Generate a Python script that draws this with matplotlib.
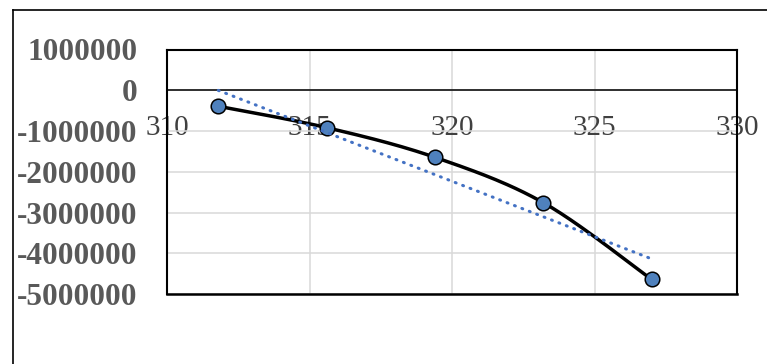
import numpy as np
import matplotlib.pyplot as plt
from matplotlib.lines import Line2D

# temperature (K) and value
temp = [311.8, 315.6, 319.4, 323.2, 327.0]
valor = [-393000, -917000, -1645000, -2757000, -4640000]

x_ticks = [310, 315, 320, 325, 330]
y_ticks = [1000000, 0, -1000000, -2000000, -3000000, -4000000, -5000000]


def curva_suave(x, y, n=40):
    # smoothed line through the points (Catmull-Rom as cubic Bezier)
    x = np.asarray(x, float)
    y = np.asarray(y, float)
    px = np.concatenate([[x[0]], x, [x[-1]]])
    py = np.concatenate([[y[0]], y, [y[-1]]])
    xs, ys = [], []
    t = np.linspace(0, 1, n)
    for i in range(1, len(px) - 2):
        p0 = np.array([px[i], py[i]])
        p3 = np.array([px[i + 1], py[i + 1]])
        c1 = p0 + (np.array([px[i + 1], py[i + 1]]) - np.array([px[i - 1], py[i - 1]])) / 6
        c2 = p3 - (np.array([px[i + 2], py[i + 2]]) - np.array([px[i], py[i]])) / 6
        b = ((1 - t) ** 3)[:, None] * p0 + (3 * (1 - t) ** 2 * t)[:, None] * c1 \
            + (3 * (1 - t) * t ** 2)[:, None] * c2 + (t ** 3)[:, None] * p3
        xs.extend(b[:, 0])
        ys.extend(b[:, 1])
    return np.array(xs), np.array(ys)


fig = plt.figure(figsize=(7.67, 3.64), dpi=100)
ax = fig.add_axes([167 / 767, 1 - 294 / 364, 570 / 767, 244.5 / 364])

ax.grid(True, color='#d9d9d9', linewidth=1.1)
ax.set_axisbelow(True)

xs, ys = curva_suave(temp, valor)
ax.plot(xs, ys, color='black', linewidth=2.5, zorder=3)
ax.plot(temp, valor, 'o', markersize=10.5, markerfacecolor='#4f81bd',
        markeredgecolor='black', markeredgewidth=1.1, zorder=4)

# linear trend line
a, b = np.polyfit(temp, valor, 1)
tx = np.array([temp[0], temp[-1]])
ax.plot(tx, a * tx + b, linestyle=(0, (0.3, 2.3)), dash_capstyle='round',
        color='#4472c4', linewidth=2.2, zorder=5)

ax.set_xlim(310, 330)
ax.set_ylim(-5000000, 1000000)

# x axis crosses at y = 0 (set before the tick labels, it resets the ticks)
ax.spines['bottom'].set_position(('data', 0))
ax.spines['bottom'].set_linewidth(1.1)
for s in ['left', 'right', 'top']:
    ax.spines[s].set_linewidth(1.5)
ax.add_line(Line2D([310, 330], [-5000000, -5000000], color='black',
                   linewidth=1.8, clip_on=False, zorder=6))

ax.set_xticks(x_ticks)
ax.set_yticks(y_ticks)
ax.set_xticklabels([str(v) for v in x_ticks])
ax.set_yticklabels([str(v) for v in y_ticks])
ax.tick_params(axis='both', length=0)
ax.tick_params(axis='x', pad=18, labelsize=21, labelcolor='#404040')
ax.tick_params(axis='y', pad=21, labelsize=22.5, labelcolor='#595959')
for lbl in ax.get_xticklabels():
    lbl.set_fontfamily('Liberation Serif')
for lbl in ax.get_yticklabels():
    lbl.set_fontfamily('Liberation Serif')
    lbl.set_fontweight('bold')

# chart frame
fig.add_artist(Line2D([13 / 767, 13 / 767], [0, 1 - 10 / 364], color='black', linewidth=1.2))
fig.add_artist(Line2D([13 / 767, 1], [1 - 10 / 364, 1 - 10 / 364], color='black', linewidth=1.2))

fig.savefig('out.png', dpi=100)
